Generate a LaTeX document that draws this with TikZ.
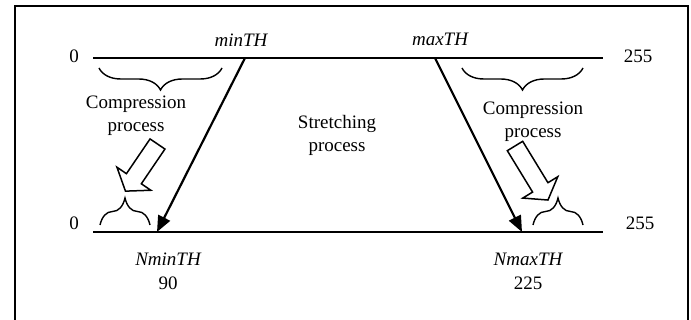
\documentclass[tikz,border=0pt]{standalone}
\usepackage{fontspec}
\setmainfont{Liberation Serif}
\usetikzlibrary{arrows.meta,decorations.pathreplacing}

\tikzset{
  lbl/.style={inner sep=0pt, font=\fontsize{9.5}{11.5}\selectfont, align=center},
  ilbl/.style={lbl, font=\fontsize{9.5}{11.5}\selectfont\itshape},
  axis/.style={line width=0.85pt},
  mapline/.style={line width=1.1pt, -{Triangle[length=8pt,width=6.5pt]}},
  bracedown/.style={line width=0.7pt, decorate, decoration={brace, mirror, amplitude=#1}},
  braceup/.style={line width=0.7pt, decorate, decoration={brace, amplitude=#1}},
  hollow/.style={draw, line width=0.75pt, fill=white, line join=miter}
}

\begin{document}
\begin{tikzpicture}[x=0.5pt, y=-0.5pt]
  \useasboundingbox (0,0) rectangle (691,320);
  \clip (0,0) rectangle (691,320);

  % frame (bottom edge runs past the page)
  \draw[line width=1.3pt] (15,6) rectangle (688,340);

  % input and output ranges
  \coordinate (inL) at (93,58);
  \coordinate (inR) at (603,58);
  \coordinate (outL) at (93,232);
  \coordinate (outR) at (603,232);
  \draw[axis] (inL) -- (inR);
  \draw[axis] (outL) -- (outR);

  \node[lbl] (in0) at (74,56) {0};
  \node[lbl] (in255) at (638,56) {255};
  \node[lbl] (out0) at (74,223) {0};
  \node[lbl] (out255) at (640,223) {255};

  % thresholds and their mapped positions
  \coordinate (tmin) at (245,58);
  \coordinate (tmax) at (435,58);
  \coordinate (nmin) at (157,232);
  \coordinate (nmax) at (522,232);
  \node[ilbl] (minTH) at (241,40) {minTH};
  \node[ilbl] (maxTH) at (440,39) {maxTH};
  \draw[mapline] (tmin) -- (nmin);
  \draw[mapline] (tmax) -- (nmax);

  \node[ilbl] (NminTH) at (168,259) {NminTH};
  \node[lbl] (v90) at (168,283) {90};
  \node[ilbl] (NmaxTH) at (528,259) {NmaxTH};
  \node[lbl] (v225) at (528,283) {225};

  % braces over the compressed intervals
  \draw[bracedown=11pt] (99,68) -- (222,68);
  \draw[bracedown=11pt] (462,68) -- (583,68);
  \draw[braceup=13.5pt] (100,225) -- (150,225);
  \draw[braceup=13.5pt] (533,225) -- (583,225);

  % process labels
  \node[lbl] (compL) at (136,116) {Compression\\process};
  \node[lbl] (compR) at (533,122) {Compression\\process};
  \node[lbl] (stretch) at (337,135) {Stretching\\process};

  % hollow block arrows
  \begin{scope}[shift={(157.5,144)}, rotate=-124.2]
    \draw[hollow] (0,-9) -- (42,-9) -- (42,-20.5) -- (57,0) -- (42,20.5) -- (42,9) -- (0,9) -- cycle;
  \end{scope}
  \begin{scope}[shift={(515,146)}, rotate=-58.6]
    \draw[hollow] (0,-9) -- (48.5,-9) -- (48.5,-20.5) -- (63.3,0) -- (48.5,20.5) -- (48.5,9) -- (0,9) -- cycle;
  \end{scope}
\end{tikzpicture}
\end{document}
